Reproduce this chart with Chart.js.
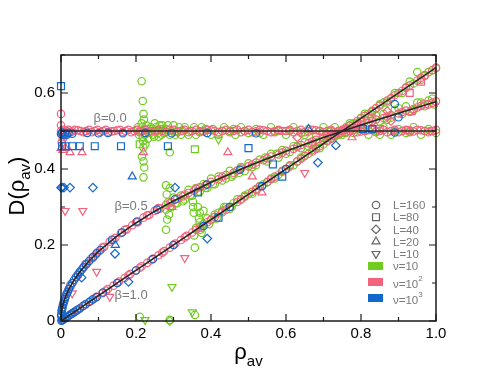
<!DOCTYPE html>
<html>
<head>
<meta charset="utf-8">
<script src="https://cdn.jsdelivr.net/npm/chart.js@4.4.0/dist/chart.umd.min.js"></script>
<style>
html, body { margin: 0; padding: 0; background: #fff; }
</style>
</head>
<body>
<canvas id="chart" width="491" height="379"></canvas>
<script>
// axis ticks
const xTicks = [0, 0.2, 0.4, 0.6, 0.8, 1];
const yTicks = [0, 0.2, 0.4, 0.6];
const xMinor = [0.1, 0.3, 0.5, 0.7, 0.9];
const yMinor = [0.1, 0.3, 0.5, 0.7];
const betaNames = ['β=0.0', 'β=0.5', 'β=1.0'];
const sizeNames = ['L=160', 'L=80', 'L=40', 'L=20', 'L=10'];
const nuExp = ['', '2', '3'];

// fitted curves (black)
const beta0Line = [[0, 0.5], [1, 0.5]];
const beta05Line = [[0, 0], [0.001, 0.018], [0.003, 0.032], [0.006, 0.045], [0.01, 0.058], [0.02, 0.082], [0.035, 0.108], [0.05, 0.129], [0.075, 0.158], [0.1, 0.183], [0.15, 0.224], [0.2, 0.258], [0.25, 0.289], [0.3, 0.316], [0.4, 0.365], [0.5, 0.408], [0.6, 0.447], [0.7, 0.483], [0.8, 0.516], [0.9, 0.547], [1.0, 0.577]];
const beta1Line = [[0, 0], [1, 0.667]];

// nu = 10 (green)
const greenCircles = [
  [0.205,0.51],[0.208,0.49],[0.212,0.5],[0.215,0.52],[0.218,0.485],[0.222,0.505],[0.225,0.495],[0.228,0.515],[0.232,0.48],[0.236,0.5],[0.24,0.51],[0.245,0.49],[0.25,0.52],[0.255,0.5],[0.26,0.485],[0.265,0.505],[0.27,0.515],[0.275,0.495],[0.28,0.505],[0.29,0.49],[0.3,0.515],[0.31,0.5],[0.32,0.49],[0.33,0.51],[0.345,0.5],[0.36,0.49],[0.375,0.51],[0.39,0.495],[0.405,0.505],[0.42,0.49],[0.435,0.51],[0.45,0.5],[0.465,0.49],[0.48,0.51],[0.5,0.495],[0.52,0.505],[0.54,0.49],[0.56,0.51],[0.58,0.5],[0.6,0.49],[0.62,0.51],[0.64,0.495],[0.66,0.505],[0.68,0.49],[0.7,0.51],[0.72,0.5],[0.74,0.49],[0.76,0.505],[0.78,0.495],[0.8,0.51],[0.82,0.49],[0.84,0.5],[0.86,0.51],[0.88,0.49],[0.9,0.505],[0.92,0.495],[0.94,0.51],[0.96,0.49],[0.98,0.505],[1.0,0.495],
  [0.21,0.5],[0.217,0.51],[0.224,0.49],[0.23,0.505],[0.238,0.495],[0.243,0.505],[0.248,0.485],[0.253,0.51],[0.258,0.495],[0.263,0.515],[0.268,0.49],[0.273,0.505],[0.285,0.515],[0.295,0.5],[0.305,0.49],[0.315,0.51],[0.325,0.5],[0.34,0.49],[0.355,0.51],[0.37,0.5],[0.385,0.505],[0.4,0.49],[0.43,0.5],[0.46,0.505],[0.49,0.5],[0.53,0.495],[0.57,0.5],[0.61,0.5],[0.65,0.49],[0.69,0.5],[0.73,0.51],[0.77,0.5],[0.81,0.5],[0.85,0.49],[0.89,0.5],[0.93,0.5],[0.97,0.5],
  [0.215,0.631],[0.218,0.579],[0.22,0.545],[0.221,0.53],[0.219,0.473],[0.22,0.457],[0.216,0.433],[0.22,0.42],[0.222,0.404],[0.22,0.378],[0.29,0.444],[0.225,0.465],
  [0.3,0.325],[0.31,0.31],[0.32,0.33],[0.33,0.32],[0.34,0.345],[0.35,0.33],[0.36,0.35],[0.37,0.34],[0.38,0.36],[0.39,0.35],[0.4,0.375],[0.41,0.36],[0.42,0.38],[0.44,0.375],[0.45,0.395],[0.46,0.385],[0.48,0.405],[0.49,0.395],[0.5,0.415],[0.52,0.41],[0.53,0.425],[0.55,0.42],[0.56,0.44],[0.58,0.43],[0.59,0.45],[0.61,0.445],[0.62,0.46],[0.64,0.455],[0.65,0.47],[0.67,0.465],[0.68,0.485],[0.7,0.475],[0.71,0.49],[0.73,0.485],[0.74,0.5],[0.76,0.495],[0.77,0.515],[0.79,0.505],[0.8,0.525],[0.82,0.515],[0.83,0.535],[0.85,0.525],[0.86,0.545],[0.88,0.535],[0.89,0.555],[0.91,0.545],[0.92,0.565],[0.94,0.555],[0.95,0.575],[0.97,0.565],[0.98,0.58],[0.995,0.57],
  [0.29,0.3],[0.305,0.31],[0.325,0.315],[0.345,0.33],[0.365,0.34],[0.385,0.35],[0.405,0.36],[0.43,0.37],[0.455,0.38],[0.475,0.39],[0.51,0.405],[0.545,0.43],[0.575,0.44],[0.6,0.44],[0.63,0.46],[0.66,0.46],[0.69,0.47],[0.72,0.5],[0.75,0.49],[0.78,0.51],[0.81,0.51],[0.84,0.54],[0.87,0.53],[0.9,0.56],[0.93,0.55],[0.96,0.575],[0.99,0.585],
  [0.28,0.357],[0.282,0.333],[0.285,0.312],[0.28,0.293],[0.283,0.267],[0.28,0.24],[0.29,0.35],[0.295,0.3],[0.288,0.28],[0.352,0.314],[0.352,0.3],[0.354,0.285],[0.357,0.193],
  [0.36,0.245],[0.37,0.26],[0.38,0.255],[0.39,0.27],[0.4,0.265],[0.41,0.28],[0.42,0.285],[0.43,0.29],[0.44,0.3],[0.45,0.295],[0.46,0.31],[0.48,0.32],[0.49,0.33],[0.5,0.335],[0.52,0.345],[0.53,0.355],[0.55,0.365],[0.56,0.375],[0.58,0.385],[0.6,0.4],[0.61,0.41],[0.63,0.42],[0.64,0.43],[0.66,0.44],[0.68,0.455],[0.7,0.465],[0.72,0.48],[0.74,0.49],[0.76,0.51],[0.78,0.52],[0.8,0.535],[0.82,0.545],[0.84,0.56],[0.86,0.575],[0.88,0.585],[0.9,0.6],[0.92,0.615],[0.94,0.625],[0.95,0.655],[0.97,0.645],[0.98,0.655],[1.0,0.665],
  [0.355,0.225],[0.375,0.245],[0.395,0.255],[0.415,0.27],[0.435,0.3],[0.455,0.3],[0.47,0.32],[0.51,0.335],[0.54,0.36],[0.57,0.375],[0.59,0.395],[0.62,0.41],[0.65,0.435],[0.67,0.45],[0.69,0.455],[0.71,0.475],[0.73,0.49],[0.75,0.495],[0.77,0.52],[0.79,0.52],[0.81,0.545],[0.83,0.55],[0.85,0.57],[0.87,0.575],[0.89,0.6],[0.91,0.6],[0.93,0.63],[0.96,0.635],[0.99,0.66],
  [0.365,0.3],[0.37,0.285],[0.368,0.27],[0.372,0.24],[0.375,0.232],[0.38,0.29],
  [0.21,0.011],[0.357,0.016],[0.29,0.003]
];
const greenSquares = [[0.357,0.452],[0.21,0.465]];
const greenDiamonds = [[0.29,0.0]];
const greenDown = [[0.224,0.003],[0.35,0.023],[0.296,0.09],[0.42,0.478]];

// nu = 10^2 (pink)
const pinkCircles = [
  [0.0,0.5],[0.01,0.497],[0.02,0.503],[0.03,0.499],[0.045,0.502],[0.06,0.497],[0.075,0.503],[0.09,0.5],[0.105,0.497],[0.12,0.503],[0.135,0.499],[0.15,0.502],[0.165,0.497],[0.18,0.503],[0.195,0.5],[0.21,0.497],[0.225,0.503],[0.24,0.499],[0.26,0.502],[0.28,0.497],[0.3,0.503],[0.32,0.5],[0.34,0.497],[0.36,0.503],[0.38,0.499],[0.4,0.502],[0.42,0.497],[0.44,0.503],[0.46,0.5],[0.48,0.497],[0.5,0.503],[0.52,0.499],[0.54,0.502],[0.56,0.497],[0.58,0.503],[0.6,0.5],[0.62,0.497],[0.64,0.503],[0.66,0.499],[0.68,0.502],[0.7,0.497],[0.72,0.503],[0.74,0.5],[0.76,0.497],[0.78,0.503],[0.8,0.499],[0.82,0.502],[0.84,0.497],[0.86,0.503],[0.88,0.5],[0.9,0.497],[0.92,0.503],[0.94,0.499],[0.96,0.502],[0.98,0.497],[1.0,0.503],
  [0.005,0.503],[0.015,0.5],[0.025,0.497],[0.037,0.503],[0.052,0.5],[0.067,0.5],[0.082,0.497],[0.097,0.503],[0.112,0.5],[0.127,0.497],[0.142,0.5],[0.157,0.503],[0.172,0.5],[0.187,0.497],[0.202,0.503],[0.217,0.5],[0.232,0.497],[0.25,0.5],[0.27,0.5],[0.29,0.503],[0.31,0.497],[0.33,0.503],[0.35,0.5],[0.37,0.497],[0.39,0.503],[0.41,0.5],[0.43,0.5],[0.45,0.497],[0.47,0.503],[0.49,0.5],[0.51,0.497],[0.53,0.503],[0.55,0.5],[0.57,0.497],[0.59,0.5],[0.61,0.503],[0.63,0.5],[0.65,0.497],[0.67,0.503],[0.69,0.5],[0.71,0.5],[0.73,0.497],[0.75,0.503],[0.77,0.5],[0.79,0.497],[0.81,0.5],[0.83,0.503],[0.85,0.5],[0.87,0.497],[0.89,0.503],[0.91,0.5],[0.93,0.497],[0.95,0.503],[0.97,0.5],[0.99,0.5],
  [0,0.545],[0,0.515],[0.003,0.49],[0.005,0.48],[0.002,0.47],[0.008,0.485],[0.015,0.49],
  [0.002,0.028],[0.005,0.042],[0.01,0.058],[0.015,0.072],[0.02,0.083],[0.03,0.1],[0.04,0.116],[0.05,0.128],[0.06,0.142],[0.07,0.152],[0.08,0.164],[0.09,0.172],[0.1,0.183],[0.115,0.195],[0.13,0.209],[0.145,0.219],[0.16,0.232],[0.175,0.241],[0.19,0.252],[0.205,0.26],[0.22,0.272],[0.235,0.279],[0.25,0.29],[0.265,0.296],[0.28,0.306],[0.295,0.313],[0.31,0.322],[0.325,0.328],[0.34,0.337],[0.355,0.343],[0.37,0.352],[0.385,0.357],[0.4,0.366],[0.42,0.373],[0.44,0.384],[0.46,0.39],[0.48,0.401],[0.5,0.407],[0.52,0.417],[0.54,0.423],[0.56,0.433],[0.58,0.438],[0.6,0.448],[0.62,0.453],[0.64,0.463],[0.66,0.468],[0.68,0.477],[0.7,0.482],[0.72,0.491],[0.74,0.495],[0.76,0.504],[0.78,0.509],[0.8,0.517],[0.82,0.521],[0.84,0.53],[0.86,0.534],[0.88,0.542],[0.9,0.546],[0.92,0.554],[0.94,0.558],[0.96,0.566],[0.98,0.57],[1.0,0.578],
  [0.008,0.05],[0.025,0.095],[0.045,0.12],[0.065,0.15],[0.085,0.166],[0.11,0.193],[0.14,0.214],[0.17,0.24],[0.2,0.26],[0.23,0.278],[0.26,0.297],[0.29,0.31],[0.33,0.333],[0.36,0.348],[0.39,0.36],[0.43,0.38],[0.47,0.396],[0.51,0.412],[0.55,0.428],[0.59,0.443],[0.63,0.458],[0.67,0.472],[0.71,0.487],[0.75,0.5],[0.79,0.513],[0.83,0.526],[0.87,0.538],[0.91,0.55],[0.95,0.562],[0.99,0.574],
  [0.005,0.003],[0.015,0.01],[0.025,0.017],[0.035,0.023],[0.05,0.033],[0.065,0.044],[0.08,0.053],[0.095,0.064],[0.11,0.073],[0.125,0.084],[0.14,0.093],[0.155,0.104],[0.17,0.113],[0.185,0.124],[0.2,0.133],[0.215,0.144],[0.23,0.153],[0.245,0.164],[0.26,0.173],[0.275,0.184],[0.29,0.193],[0.305,0.204],[0.32,0.213],[0.335,0.224],[0.35,0.233],[0.37,0.247],[0.39,0.26],[0.41,0.274],[0.43,0.286],[0.45,0.3],[0.47,0.313],[0.49,0.327],[0.51,0.34],[0.53,0.354],[0.55,0.366],[0.57,0.38],[0.59,0.393],[0.61,0.407],[0.63,0.42],[0.65,0.434],[0.67,0.446],[0.69,0.46],[0.71,0.473],[0.73,0.487],[0.75,0.5],[0.77,0.514],[0.79,0.526],[0.81,0.54],[0.83,0.553],[0.85,0.567],[0.87,0.58],[0.89,0.594],[0.91,0.606],[0.93,0.62],[0.95,0.633],[0.97,0.647],[0.99,0.66],
  [0.01,0.007],[0.03,0.02],[0.045,0.03],[0.06,0.04],[0.09,0.06],[0.12,0.08],[0.15,0.1],[0.18,0.12],[0.21,0.14],[0.24,0.16],[0.27,0.18],[0.3,0.2],[0.33,0.22],[0.36,0.24],[0.4,0.267],[0.44,0.293],[0.48,0.32],[0.52,0.347],[0.56,0.373],[0.6,0.4],[0.64,0.427],[0.68,0.453],[0.72,0.48],[0.76,0.507],[0.8,0.533],[0.84,0.56],[0.88,0.587],[0.92,0.613],[0.96,0.64],[1.0,0.667]
];
const pinkSquares = [[0.93,0.6],[0.96,0.63],[0.935,0.552],[0.925,0.502],[0.97,0.57],[0.85,0.505],[0.99,0.5]];
const pinkDiamonds = [[0.87,0.552],[0.88,0.526],[0.63,0.483]];
const pinkUp = [[0.0,0.455],[0.005,0.45],[0.012,0.455],[0.024,0.444],[0.056,0.444],[0.22,0.444],[0.445,0.444],[0.776,0.483],[0.51,0.38],[0.296,0.3],[0.536,0.338]];
const pinkDown = [[0.011,0.29],[0.058,0.29],[0.33,0.166],[0.095,0.13],[0.13,0.064],[0.03,0.073],[0.65,0.39]];

// nu = 10^3 (blue)
const blueCircles = [
  [0,0.492],[0.003,0.496],[0.006,0.49],[0.01,0.494],[0.015,0.49],[0.02,0.495],[0.03,0.493],[0.07,0.495],[0.1,0.494],[0.125,0.495],[0.165,0.494],[0.225,0.495],[0.295,0.494],[0.39,0.495],[0.52,0.494],[0.89,0.496],
  [0.0005,0.013],[0.001,0.018],[0.002,0.026],[0.003,0.032],[0.004,0.036],[0.006,0.045],[0.008,0.052],[0.01,0.058],[0.012,0.063],[0.015,0.071],[0.018,0.077],[0.021,0.084],[0.025,0.091],[0.03,0.1],[0.035,0.108],[0.04,0.115],[0.045,0.122],[0.05,0.129],[0.055,0.135],[0.06,0.141],[0.067,0.149],[0.075,0.158],[0.085,0.168],[0.095,0.178],[0.105,0.187],[0.136,0.214],[0.163,0.233],[0.203,0.262],[0.256,0.293],[0.304,0.32],[0.389,0.359],[0.477,0.398],[0.89,0.571],[0.9,0.536],
  [0.001,0.001],[0.003,0.002],[0.006,0.004],[0.01,0.007],[0.015,0.01],[0.02,0.013],[0.025,0.017],[0.03,0.02],[0.036,0.024],[0.042,0.028],[0.05,0.033],[0.058,0.039],[0.066,0.044],[0.075,0.05],[0.085,0.057],[0.095,0.063],[0.112,0.075],[0.15,0.1],[0.2,0.133],[0.245,0.163],[0.3,0.2],[0.38,0.25],[0.45,0.3],[0.536,0.355],[0.6,0.4]
];
const blueSquares = [[0,0.618],[0.003,0.46],[0.012,0.46],[0.03,0.46],[0.05,0.46],[0.09,0.46],[0.16,0.46],[0.285,0.46],[0.5,0.455],[0.805,0.505],[0.83,0.505],[0.365,0.338],[0.42,0.272],[0.565,0.412],[0.59,0.38]];
const blueDiamonds = [[0,0.351],[0.003,0.351],[0.008,0.351],[0.024,0.351],[0.085,0.351],[0.304,0.351],[0.39,0.217],[0.144,0.177],[0.055,0.114],[0.18,0.103],[0.685,0.417],[0.733,0.462]];
const blueUp = [[0.19,0.38],[0.145,0.2],[0.66,0.505]];

const GREEN = '#70cc1f';
const PINK = '#f2637e';
const BLUE = '#1368cc';
const FONT = "'Liberation Sans', Arial, sans-serif";

const pts = arr => arr.map(p => ({ x: p[0], y: p[1] }));
const shapeSize = { circle: 3.7, rect: 4.9, rectRot: 4.3, triangle: 4.6 };

function marks(arr, color, shape, order, rot) {
  return {
    type: 'scatter',
    data: pts(arr),
    showLine: false,
    pointStyle: shape,
    pointRadius: shapeSize[shape],
    pointRotation: rot || 0,
    pointBorderWidth: 1.2,
    borderColor: color,
    backgroundColor: 'rgba(0,0,0,0)',
    order: order,
    clip: false
  };
}

function curve(arr) {
  return {
    type: 'line',
    data: pts(arr),
    showLine: true,
    pointRadius: 0,
    borderColor: '#262626',
    borderWidth: 1.6,
    fill: false,
    tension: 0,
    order: 0
  };
}

const frameAndText = {
  id: 'frameAndText',
  afterDatasetsDraw(chart) {
    const { ctx, chartArea: a, scales: { x, y } } = chart;
    ctx.save();
    // frame
    ctx.strokeStyle = '#1a1a1a';
    ctx.lineWidth = 1.5;
    ctx.strokeRect(a.left, a.top, a.right - a.left, a.bottom - a.top);
    // inward ticks
    ctx.lineWidth = 1.2;
    ctx.beginPath();
    const tx = (v, len) => {
      const px = x.getPixelForValue(v);
      ctx.moveTo(px, a.bottom); ctx.lineTo(px, a.bottom - len);
      ctx.moveTo(px, a.top); ctx.lineTo(px, a.top + len);
    };
    const ty = (v, len) => {
      const py = y.getPixelForValue(v);
      ctx.moveTo(a.left, py); ctx.lineTo(a.left + len, py);
      ctx.moveTo(a.right, py); ctx.lineTo(a.right - len, py);
    };
    xTicks.forEach(v => tx(v, 7));
    xMinor.forEach(v => tx(v, 4));
    yTicks.forEach(v => ty(v, 7));
    yMinor.forEach(v => ty(v, 4));
    ctx.stroke();

    // beta labels
    ctx.fillStyle = '#7a7a7a';
    ctx.font = '13px ' + FONT;
    ctx.textAlign = 'center';
    ctx.textBaseline = 'middle';
    ctx.fillText(betaNames[0], x.getPixelForValue(0.131), y.getPixelForValue(0.534));
    ctx.fillText(betaNames[1], x.getPixelForValue(0.187), y.getPixelForValue(0.301));
    ctx.fillText(betaNames[2], x.getPixelForValue(0.187), y.getPixelForValue(0.066));

    // legend
    const lx = a.right - 60;
    const ly = a.top + 150;
    ctx.font = '11.5px ' + FONT;
    ctx.textAlign = 'left';
    const shapes = [['circle', 0], ['rect', 0], ['rectRot', 0], ['triangle', 0], ['triangle', 180]];
    ctx.strokeStyle = '#666';
    shapes.forEach((s, i) => {
      const cy = ly + i * 12.2;
      ctx.fillStyle = 'rgba(0,0,0,0)';
      Chart.helpers.drawPoint(ctx, { pointStyle: s[0], radius: shapeSize[s[0]], rotation: s[1], borderWidth: 1.2 }, lx, cy);
      ctx.fillStyle = '#7a7a7a';
      ctx.fillText(sizeNames[i], lx + 17, cy + 1);
    });
    const cols = [GREEN, PINK, BLUE];
    cols.forEach((c, i) => {
      const cy = ly + 61 + i * 16;
      ctx.fillStyle = c;
      ctx.fillRect(lx - 8, cy - 4, 15, 8);
      ctx.fillStyle = '#7a7a7a';
      ctx.font = '11.5px ' + FONT;
      const base = 'ν=10';
      const ty0 = cy + (i ? 3 : 1);
      ctx.fillText(base, lx + 17, ty0);
      if (nuExp[i]) {
        const w = ctx.measureText(base).width;
        ctx.font = '8px ' + FONT;
        ctx.fillText(nuExp[i], lx + 17 + w, ty0 - 6);
      }
    });

    // x title
    ctx.fillStyle = '#000';
    ctx.textBaseline = 'alphabetic';
    ctx.font = '22px ' + FONT;
    const rho = 'ρ';
    const wr = ctx.measureText(rho).width;
    ctx.font = '15px ' + FONT;
    const wav = ctx.measureText('av').width;
    const sx = (a.left + a.right) / 2 - (wr + wav) / 2;
    ctx.font = '22px ' + FONT;
    ctx.fillText(rho, sx, 359);
    ctx.font = '15px ' + FONT;
    ctx.fillText('av', sx + wr, 366);

    // y title
    ctx.translate(24, (a.top + a.bottom) / 2 - 2);
    ctx.rotate(-Math.PI / 2);
    ctx.font = '22px ' + FONT;
    const w1 = ctx.measureText('D(ρ').width;
    const w3 = ctx.measureText(')').width;
    ctx.font = '15px ' + FONT;
    const w2 = ctx.measureText('av').width;
    const s = -(w1 + w2 + w3) / 2;
    ctx.font = '22px ' + FONT;
    ctx.fillText('D(ρ', s, 0);
    ctx.font = '15px ' + FONT;
    ctx.fillText('av', s + w1, 6);
    ctx.font = '22px ' + FONT;
    ctx.fillText(')', s + w1 + w2, 0);
    ctx.restore();
  }
};

new Chart(document.getElementById('chart'), {
  type: 'scatter',
  data: {
    datasets: [
      curve(beta0Line), curve(beta05Line), curve(beta1Line),
      marks(blueCircles, BLUE, 'circle', 1),
      marks(blueSquares, BLUE, 'rect', 1),
      marks(blueDiamonds, BLUE, 'rectRot', 1),
      marks(blueUp, BLUE, 'triangle', 1),
      marks(pinkCircles, PINK, 'circle', 2),
      marks(pinkSquares, PINK, 'rect', 2),
      marks(pinkDiamonds, PINK, 'rectRot', 2),
      marks(pinkUp, PINK, 'triangle', 2),
      marks(pinkDown, PINK, 'triangle', 2, 180),
      marks(greenCircles, GREEN, 'circle', 3),
      marks(greenSquares, GREEN, 'rect', 3),
      marks(greenDiamonds, GREEN, 'rectRot', 3),
      marks(greenDown, GREEN, 'triangle', 3, 180)
    ]
  },
  options: {
    responsive: false,
    animation: false,
    layout: { padding: { left: 0, top: 55, right: 55, bottom: 0 } },
    plugins: { legend: { display: false }, tooltip: { enabled: false } },
    scales: {
      x: {
        type: 'linear',
        min: 0, max: 1,
        afterBuildTicks: s => { s.ticks = xTicks.map(v => ({ value: v })); },
        afterFit: s => { s.height = 58; },
        grid: { display: false, drawTicks: false },
        border: { display: false },
        ticks: { color: '#000', padding: 4, font: { size: 15, family: FONT } }
      },
      y: {
        type: 'linear',
        min: 0, max: 0.7,
        afterBuildTicks: s => { s.ticks = yTicks.map(v => ({ value: v })); },
        afterFit: s => { s.width = 61; },
        grid: { display: false, drawTicks: false },
        border: { display: false },
        ticks: { color: '#000', padding: 6, font: { size: 15, family: FONT } }
      }
    }
  },
  plugins: [frameAndText]
});
</script>
</body>
</html>
